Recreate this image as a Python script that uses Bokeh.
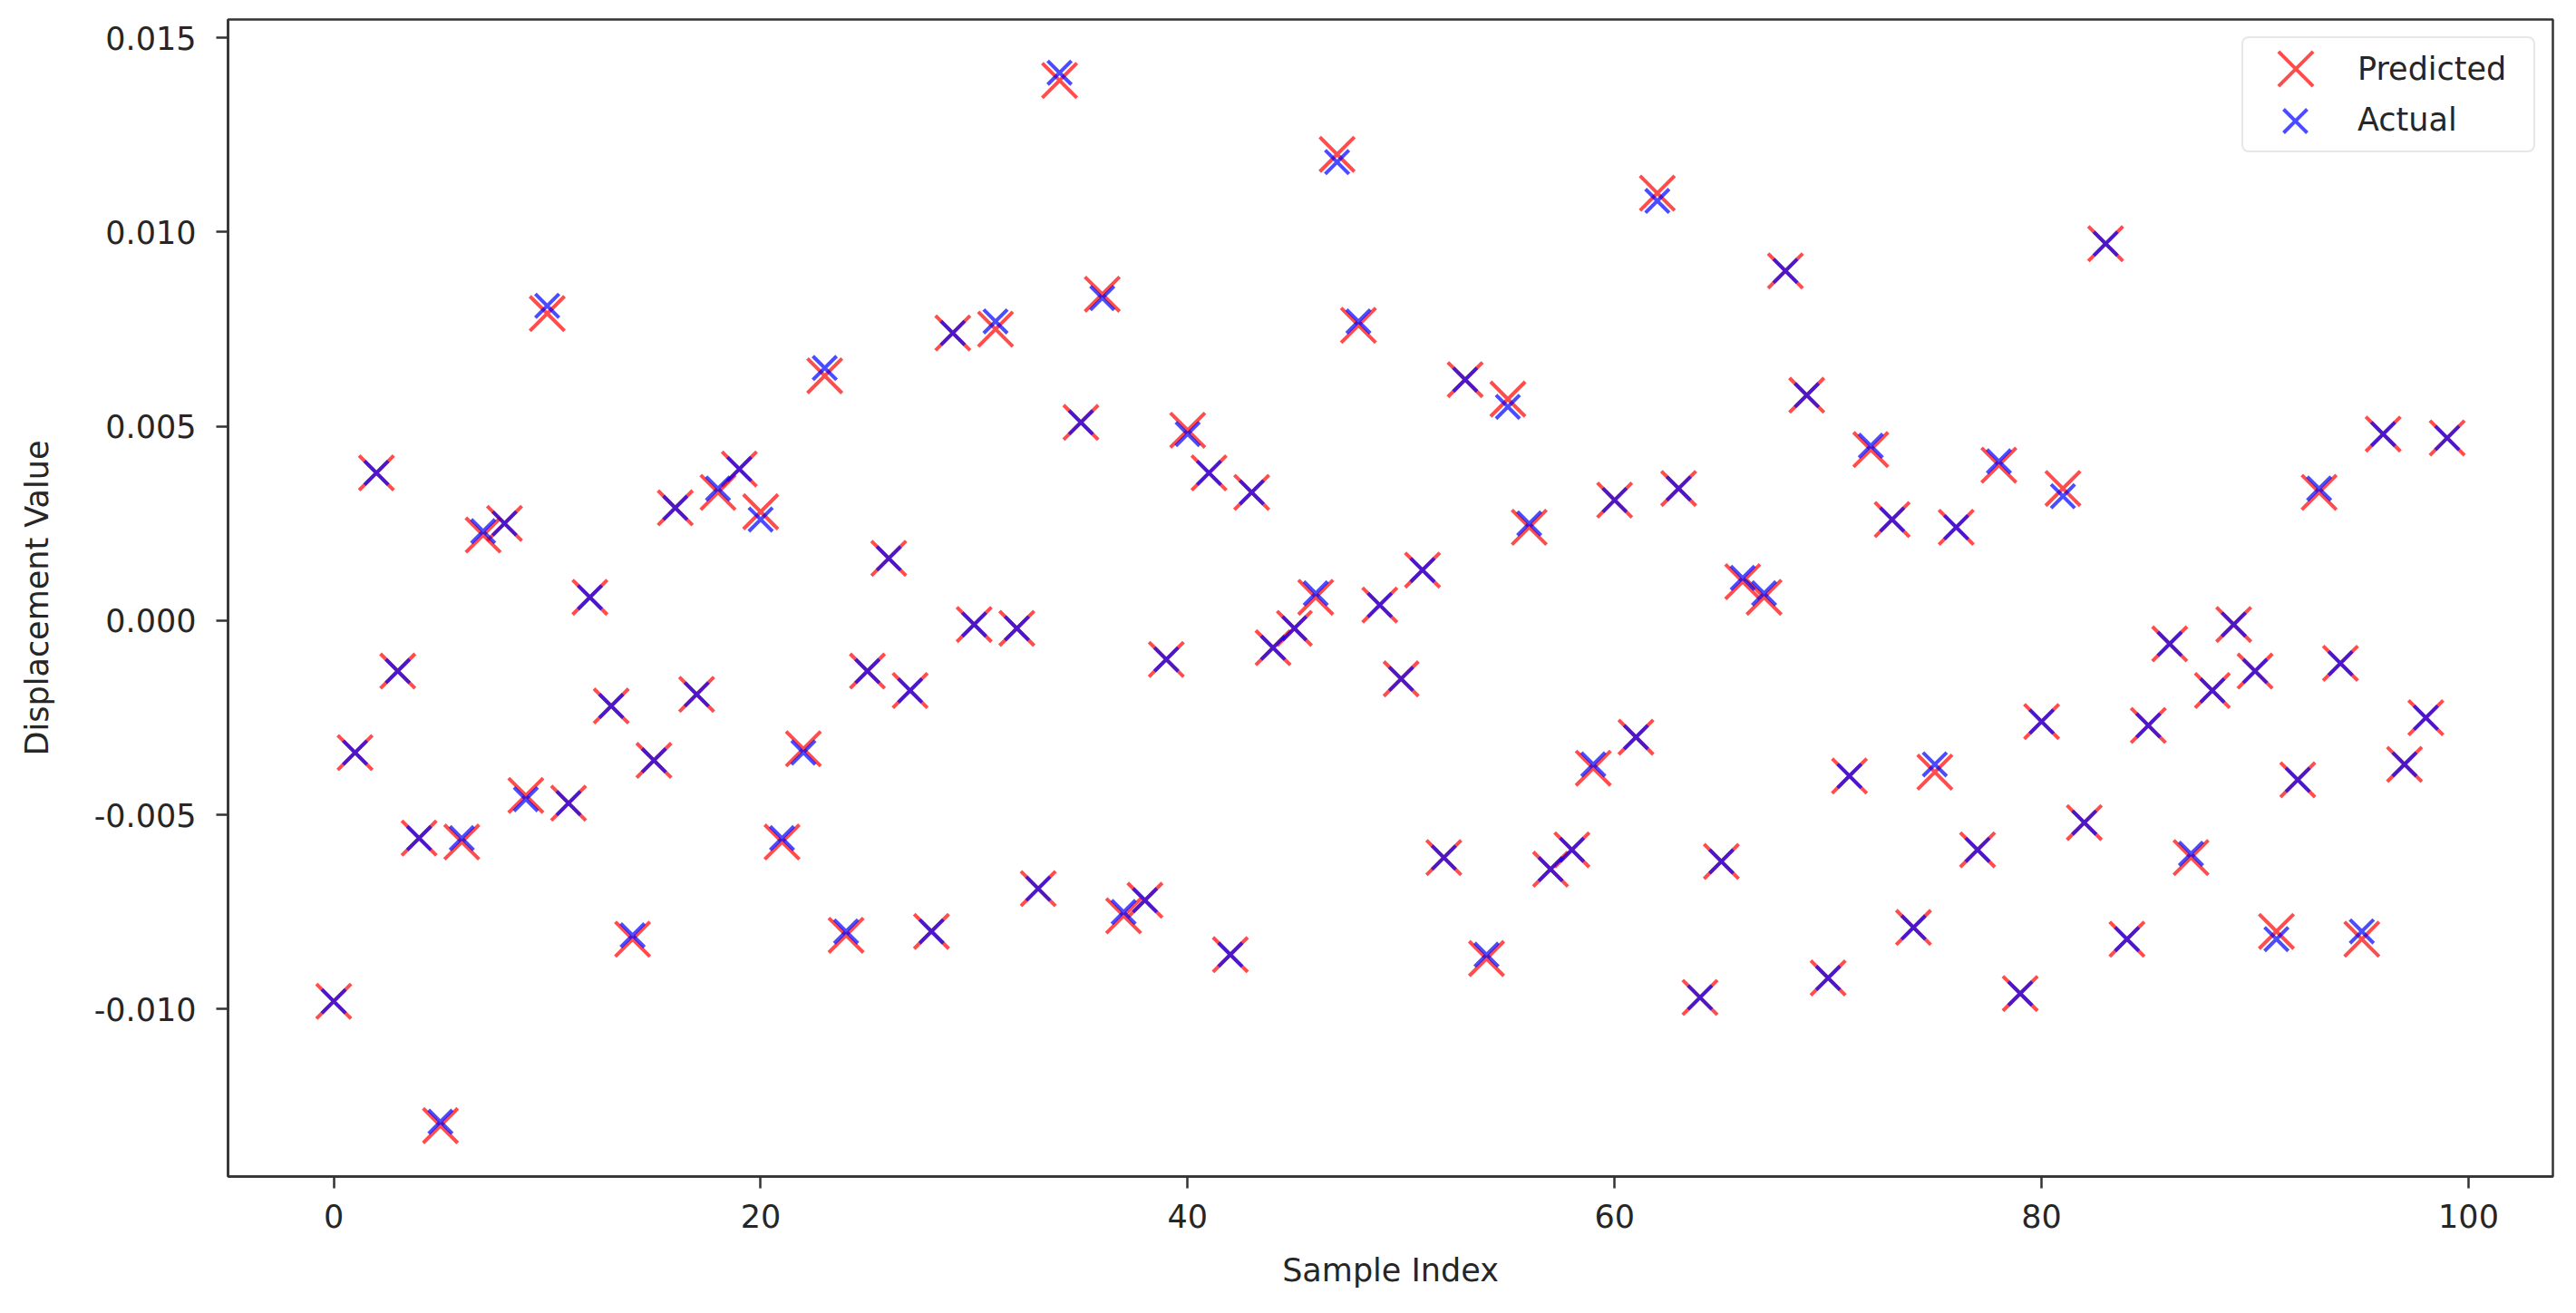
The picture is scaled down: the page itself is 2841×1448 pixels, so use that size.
from bokeh.plotting import figure
from bokeh.models import Range1d, NumeralTickFormatter, FixedTicker, Legend, LegendItem, ColumnDataSource
from bokeh.embed import file_html
from bokeh.resources import INLINE

sample_index = list(range(100))

actual = [
    -0.0098, -0.0034, 0.0038, -0.0013, -0.0056, -0.0129, -0.0056, 0.0023, 0.0025, -0.0046,
    0.0081, -0.0047, 0.0006, -0.0022, -0.0081, -0.0036, 0.0029, -0.0019, 0.0034, 0.0039,
    0.0026, -0.0056, -0.0034, 0.0065, -0.0080, -0.0013, 0.0016, -0.0018, -0.0080, 0.0074,
    -0.0001, 0.0077, -0.0002, -0.0069, 0.0141, 0.0051, 0.0083, -0.0075, -0.0072, -0.0010,
    0.0048, 0.0038, -0.0086, 0.0033, -0.0007, -0.0002, 0.0007, 0.0118, 0.0077, 0.0004,
    -0.0015, 0.0013, -0.0061, 0.0062, -0.0086, 0.0055, 0.0025, -0.0064, -0.0059, -0.0037,
    0.0031, -0.0030, 0.0108, 0.0034, -0.0097, -0.0062, 0.0011, 0.0007, 0.0090, 0.0058,
    -0.0092, -0.0040, 0.0045, 0.0026, -0.0079, -0.0037, 0.0024, -0.0059, 0.0041, -0.0096,
    -0.0026, 0.0032, -0.0052, 0.0097, -0.0082, -0.0027, -0.0006, -0.0060, -0.0018, -0.0001,
    -0.0013, -0.0082, -0.0041, 0.0034, -0.0011, -0.0080, 0.0048, -0.0037, -0.0025, 0.0047,
]

predicted = [
    -0.0098, -0.0034, 0.0038, -0.0013, -0.0056, -0.0130, -0.0057, 0.0022, 0.0025, -0.0045,
    0.0079, -0.0047, 0.0006, -0.0022, -0.0082, -0.0036, 0.0029, -0.0019, 0.0033, 0.0039,
    0.0028, -0.0057, -0.0033, 0.0063, -0.0081, -0.0013, 0.0016, -0.0018, -0.0080, 0.0074,
    -0.0001, 0.0075, -0.0002, -0.0069, 0.0139, 0.0051, 0.0084, -0.0076, -0.0072, -0.0010,
    0.0049, 0.0038, -0.0086, 0.0033, -0.0007, -0.0002, 0.0006, 0.0120, 0.0076, 0.0004,
    -0.0015, 0.0013, -0.0061, 0.0062, -0.0087, 0.0057, 0.0024, -0.0064, -0.0059, -0.0038,
    0.0031, -0.0030, 0.0110, 0.0034, -0.0097, -0.0062, 0.0010, 0.0006, 0.0090, 0.0058,
    -0.0092, -0.0040, 0.0044, 0.0026, -0.0079, -0.0039, 0.0024, -0.0059, 0.0040, -0.0096,
    -0.0026, 0.0034, -0.0052, 0.0097, -0.0082, -0.0027, -0.0006, -0.0061, -0.0018, -0.0001,
    -0.0013, -0.0080, -0.0041, 0.0033, -0.0011, -0.0082, 0.0048, -0.0037, -0.0025, 0.0047,
]

x_ticks = [0, 20, 40, 60, 80, 100]
y_ticks = [-0.010, -0.005, 0.000, 0.005, 0.010, 0.015]

FONT = "DejaVu Sans"
TXT = "#262626"
FRAME = "#333333"

FRAME_W, FRAME_H = 2564, 1276
BL, BT, BR, BB = 251, 21, 10, 143

p = figure(width=BL + FRAME_W + BR, height=BT + FRAME_H + BB,
           output_backend="svg", toolbar_location=None,
           x_range=Range1d(-4.95, 103.95), y_range=Range1d(-0.01431, 0.01547),
           min_border_left=BL, min_border_top=BT, min_border_right=BR, min_border_bottom=BB)

src = ColumnDataSource(dict(x=sample_index, pred=predicted, act=actual))

RED_SIZE, BLUE_SIZE = 54, 37
r_pred = p.scatter("x", "pred", source=src, marker="x", size=RED_SIZE, line_color="red",
                   line_alpha=0.7, line_width=4)
r_act = p.scatter("x", "act", source=src, marker="x", size=BLUE_SIZE, line_color="blue",
                  line_alpha=0.7, line_width=4)

# invisible stand-ins used only for the legend box + labels
empty = ColumnDataSource(dict(x=[], y=[]))
d1 = p.scatter("x", "y", source=empty, marker="x", line_alpha=0)
d2 = p.scatter("x", "y", source=empty, marker="x", line_alpha=0)

p.xgrid.visible = False
p.ygrid.visible = False
p.outline_line_color = FRAME
p.outline_line_width = 2.5
p.outline_line_alpha = 1

p.xaxis.ticker = FixedTicker(ticks=x_ticks)
p.yaxis.ticker = FixedTicker(ticks=y_ticks)
p.yaxis.formatter = NumeralTickFormatter(format="0.000")

for ax in (p.xaxis[0], p.yaxis[0]):
    ax.axis_line_color = FRAME
    ax.axis_line_width = 2.5
    ax.major_tick_line_color = FRAME
    ax.major_tick_line_width = 2.5
    ax.major_tick_out = 13
    ax.major_tick_in = 0
    ax.minor_tick_line_color = None
    ax.major_label_text_font = FONT
    ax.major_label_text_font_size = "35px"
    ax.major_label_text_color = TXT
    ax.axis_label_text_font = FONT
    ax.axis_label_text_font_size = "35px"
    ax.axis_label_text_font_style = "normal"
    ax.axis_label_text_color = TXT

p.xaxis.major_label_standoff = 17
p.yaxis.major_label_standoff = 22
p.xaxis.axis_label = "Sample Index"
p.yaxis.axis_label = "Displacement Value"
p.xaxis.axis_label_standoff = 24
p.yaxis.axis_label_standoff = 40

# main legend: frame + labels
legend = Legend(items=[LegendItem(label="Predicted", renderers=[d1]),
                       LegendItem(label="Actual", renderers=[d2])],
                location="top_right")
legend.label_text_font = FONT
legend.label_text_font_size = "35px"
legend.label_text_color = TXT
legend.border_line_color = "#d0d0d0"
legend.border_line_width = 2
legend.border_radius = 8
legend.glyph_width = 82
legend.glyph_height = 40
legend.label_width = 180
legend.label_standoff = 30
legend.spacing = 16
legend.padding = 14
legend.margin = 19
legend.background_fill_alpha = 0.8
p.add_layout(legend)

# glyph-only legends so the two markers keep their different sizes
G1 = int(RED_SIZE / 0.4)
G2 = int(BLUE_SIZE / 0.4)
cx, cy1, cy2 = 2280, 55, 112
leg_a = Legend(items=[LegendItem(label=" ", renderers=[r_pred])],
               location=(cx - G1 // 2, FRAME_H - (cy1 + G1 // 2)))
leg_b = Legend(items=[LegendItem(label=" ", renderers=[r_act])],
               location=(cx - G2 // 2, FRAME_H - (cy2 + G2 // 2)))
for lg, g in ((leg_a, G1), (leg_b, G2)):
    lg.glyph_width = g
    lg.glyph_height = g
    lg.padding = 0
    lg.margin = 0
    lg.label_standoff = 0
    lg.label_width = 1
    lg.border_line_color = None
    lg.background_fill_alpha = 0
    lg.label_text_font_size = "10px"
    p.add_layout(lg)

open("out.html", "w").write(file_html(p, INLINE))
